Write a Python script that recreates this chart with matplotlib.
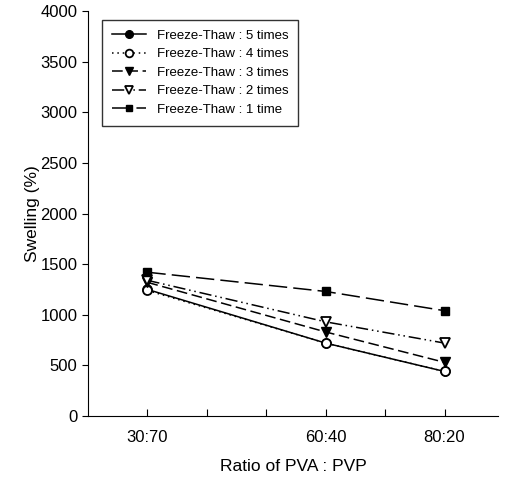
import matplotlib.pyplot as plt
import numpy as np

plt.rcParams['font.family'] = ['Liberation Sans', 'DejaVu Sans']

ratio = [30, 60, 80]
ratio_labels = ['30:70', '60:40', '80:20']

ft5 = [1250, 720, 440]
ft4 = [1240, 720, 440]
ft3 = [1320, 830, 530]
ft2 = [1340, 930, 720]
ft1 = [1420, 1230, 1040]

fig = plt.figure(figsize=(5.05, 4.84), dpi=100)
ax = fig.add_axes([88 / 505, (484 - 416) / 484, (498 - 88) / 505, (416 - 11) / 484])

ms = 6.5
ax.plot(ratio, ft5, color='k', lw=1.1, ls='-', marker='o', ms=ms, label='Freeze-Thaw : 5 times')
ax.plot(ratio, ft4, color='k', lw=1.1, ls=(0, (1, 2.5)), marker='o', ms=ms, mfc='white', mew=1.3,
        label='Freeze-Thaw : 4 times')
ax.plot(ratio, ft3, color='k', lw=1.1, ls=(0, (7, 3)), marker='v', ms=ms, label='Freeze-Thaw : 3 times')
ax.plot(ratio, ft2, color='k', lw=1.1, ls=(0, (8, 2.5, 1, 2.5, 1, 2.5)), marker='v', ms=ms, mfc='white',
        mew=1.3, label='Freeze-Thaw : 2 times')
ax.plot(ratio, ft1, color='k', lw=1.1, ls=(0, (12, 4)), marker='s', ms=ms - 1, label='Freeze-Thaw : 1 time')

ax.set_xlim(20, 89)
ax.set_ylim(0, 4000)
ax.set_yticks(np.arange(0, 4001, 500))
ax.set_xticks(np.arange(30, 81, 10))
ax.set_xticklabels(['30:70', '', '', '60:40', '', '80:20'])
ax.tick_params(axis='y', direction='out', length=4, labelsize=12)
ax.tick_params(axis='x', direction='in', length=5, labelsize=12, pad=10)
ax.spines['top'].set_visible(False)
ax.spines['right'].set_visible(False)

ax.set_xlabel('Ratio of PVA : PVP', fontsize=12.5, labelpad=10)
ax.set_ylabel('Swelling (%)', fontsize=12.5, labelpad=0)

leg = ax.legend(loc='upper left', bbox_to_anchor=(0.034, 0.978), borderaxespad=0, fontsize=9.5,
                frameon=True, fancybox=False, edgecolor='k', handlelength=2.6, borderpad=0.75,
                labelspacing=0.47, markerscale=0.85)
leg.get_frame().set_linewidth(1.0)

fig.savefig('out.png', dpi=100)
